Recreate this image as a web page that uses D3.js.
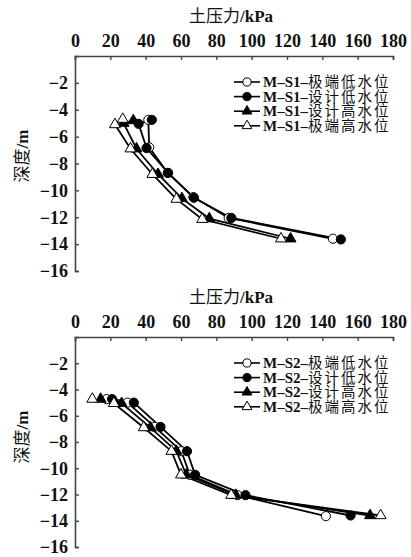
<!DOCTYPE html>
<html>
<head>
<meta charset="utf-8">
<script src="https://cdn.jsdelivr.net/npm/d3@7"></script>
<style>
  body { margin: 0; background: #fff; }
  svg text { fill: #111; }
  .lat { font-family: "Liberation Serif", "Times New Roman", "DejaVu Serif", serif; font-weight: bold; }
  .cjk { font-family: "Noto Sans CJK SC", sans-serif; font-weight: normal; }
</style>
</head>
<body>
<div id="chart"></div>
<script>
// soil pressure vs depth, two monitoring sections

let xTicks = [0, 20, 40, 60, 80, 100, 120, 140, 160, 180];
let yTicks = [-2, -4, -6, -8, -10, -12, -14, -16];
let seriesNames = ["极端低水位", "设计低水位", "设计高水位", "极端高水位"];

// [pressure kPa, depth m]
let s1ExtremeLow = [[41.5, -4.75], [42, -6.8], [52.5, -8.7], [67, -10.5], [87, -12.05], [146, -13.6]];
let s1DesignLow = [[43.5, -4.75], [36, -5.05], [40.5, -6.85], [52.7, -8.7], [67.3, -10.55], [88.5, -12.05], [150.5, -13.65]];
let s1DesignHigh = [[33, -4.8], [27.5, -5.0], [34.8, -6.9], [47, -8.8], [60.5, -10.6], [76, -12.1], [122, -13.6]];
let s1ExtremeHigh = [[27, -4.7], [22.6, -5.1], [31.4, -6.9], [43.8, -8.8], [57.4, -10.65], [72, -12.15], [116.6, -13.6]];

let s2ExtremeLow = [[17.9, -4.73], [29.7, -5.0], [45.1, -6.85], [60.2, -8.7], [65, -10.5], [92, -12.05], [142, -13.65]];
let s2DesignLow = [[21, -4.73], [33.3, -5.0], [48.4, -6.85], [63.4, -8.7], [68, -10.5], [96.5, -12.05], [156, -13.6]];
let s2DesignHigh = [[14.5, -4.73], [26.4, -5.05], [42.7, -6.9], [57.4, -8.7], [63, -10.5], [91, -12.05], [167, -13.6]];
let s2ExtremeHigh = [[9.8, -4.73], [22, -5.05], [38.9, -6.9], [54.6, -8.7], [60, -10.5], [88.4, -12.05], [173, -13.6]];

// marker style per series: open circle, filled circle, filled triangle, open triangle
let markerShape = [d3.symbolCircle, d3.symbolCircle, d3.symbolTriangle, d3.symbolTriangle];
let markerFill = ["#fff", "#000", "#000", "#fff"];
let markerSize = [66, 66, 52, 52];

let svg = d3.select("#chart").append("svg")
    .attr("width", 411)
    .attr("height", 557);

function drawPanel(top, bottom, label, data) {
    let x = d3.scaleLinear().domain([0, 180]).range([75, 393]);
    let y = d3.scaleLinear().domain([0, -16]).range([top, bottom]);

    let g = svg.append("g");

    // x title
    let xt = g.append("text")
        .attr("x", 231).attr("y", top - 34)
        .attr("text-anchor", "middle")
        .attr("font-size", "17px");
    xt.append("tspan").attr("class", "cjk").text("土压力");
    xt.append("tspan").attr("class", "lat").text("/kPa");

    // top axis
    let topAxis = g.append("g")
        .attr("transform", `translate(0,${top})`)
        .call(d3.axisTop(x).tickValues(xTicks).tickSize(-4).tickPadding(9));
    topAxis.select(".domain").attr("stroke", "#444").attr("stroke-width", 1.6);
    topAxis.selectAll(".tick line").attr("stroke", "#444").attr("stroke-width", 1.4);
    topAxis.selectAll("text")
        .attr("class", "lat")
        .attr("font-size", "18px");

    // left axis
    let leftAxis = g.append("g")
        .attr("transform", "translate(75,0)")
        .call(d3.axisLeft(y).tickValues(yTicks).tickSize(-4).tickPadding(7)
            .tickFormat(d => String(d).replace("-", "\u2212")));
    leftAxis.select(".domain").attr("stroke", "#444").attr("stroke-width", 1.6);
    leftAxis.selectAll(".tick line").attr("stroke", "#444").attr("stroke-width", 1.4);
    leftAxis.selectAll("text")
        .attr("class", "lat")
        .attr("font-size", "18px");

    // y title
    let yt = g.append("text")
        .attr("transform", `translate(28,${top + 100}) rotate(-90)`)
        .attr("text-anchor", "middle")
        .attr("font-size", "17px");
    yt.append("tspan").attr("class", "cjk").text("深度");
    yt.append("tspan").attr("class", "lat").attr("font-weight", "normal").text("/m");

    let line = d3.line().x(d => x(d[0])).y(d => y(d[1]));

    data.forEach(function(s) {
        g.append("path")
            .attr("d", line(s))
            .attr("fill", "none")
            .attr("stroke", "#000")
            .attr("stroke-width", 1.8);
    });

    data.forEach(function(s, i) {
        g.selectAll(null)
            .data(s)
            .enter()
            .append("path")
            .attr("transform", d => `translate(${x(d[0])},${y(d[1])})`)
            .attr("d", d3.symbol().type(markerShape[i]).size(markerSize[i]))
            .attr("fill", markerFill[i])
            .attr("stroke", "#000")
            .attr("stroke-width", 1);
    });

    // legend
    let legend = g.append("g");
    seriesNames.forEach(function(name, i) {
        let ly = top + 26 + i * 14.6;
        legend.append("line")
            .attr("x1", 234).attr("x2", 260)
            .attr("y1", ly).attr("y2", ly)
            .attr("stroke", "#000").attr("stroke-width", 1.6);
        legend.append("path")
            .attr("transform", `translate(247,${ly})`)
            .attr("d", d3.symbol().type(markerShape[i]).size(markerSize[i] * 0.8))
            .attr("fill", markerFill[i])
            .attr("stroke", "#000")
            .attr("stroke-width", 1);
        let t = legend.append("text")
            .attr("x", 263).attr("y", ly + 5)
            .attr("font-size", "15px");
        t.append("tspan").attr("class", "lat").text(`M\u2013${label}\u2013`);
        t.append("tspan").attr("class", "cjk")
            .attr("font-size", "14.5px")
            .attr("letter-spacing", "2px")
            .text(name);
    });
}

drawPanel(56, 271, "S1", [s1ExtremeLow, s1DesignLow, s1DesignHigh, s1ExtremeHigh]);
drawPanel(337, 547, "S2", [s2ExtremeLow, s2DesignLow, s2DesignHigh, s2ExtremeHigh]);
</script>
</body>
</html>
